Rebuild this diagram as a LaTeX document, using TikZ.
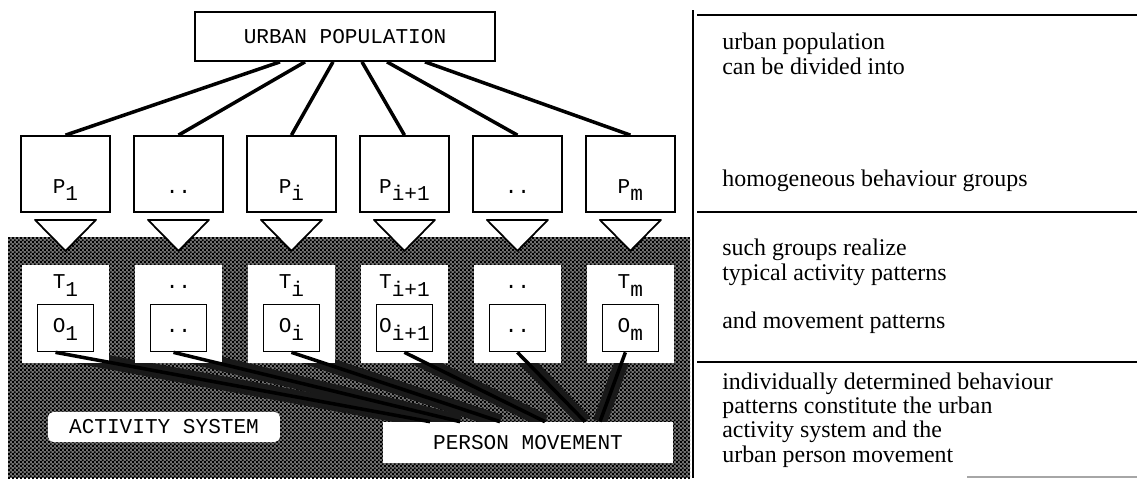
\documentclass[tikz,border=0pt]{standalone}
\usepackage{fontspec}
\setmainfont{Liberation Serif}
\setmonofont{Liberation Mono}
\usetikzlibrary{shapes,arrows,positioning,calc,patterns,backgrounds}

\pgfdeclarepatternformonly{halftone}{\pgfqpoint{0pt}{0pt}}{\pgfqpoint{2.4pt}{2.4pt}}{\pgfqpoint{2.4pt}{2.4pt}}{%
  \pgfpathrectangle{\pgfqpoint{0pt}{0pt}}{\pgfqpoint{1.2pt}{1.2pt}}%
  \pgfpathrectangle{\pgfqpoint{1.2pt}{1.2pt}}{\pgfqpoint{1.2pt}{1.2pt}}%
  \pgfusepath{fill}}

\newcommand{\lowidx}[1]{\raisebox{-4pt}{#1}}

\begin{document}
\begin{tikzpicture}[x=0.02cm, y=-0.02cm, node distance=2.26cm, auto, font=\ttfamily\fontsize{12}{14}\selectfont]
  \tikzstyle{popbox} = [rectangle, draw, line width=1pt, fill=white, minimum width=6cm, minimum height=0.98cm]
  \tikzstyle{grpbox} = [rectangle, draw, line width=1pt, fill=white, minimum width=1.78cm, minimum height=1.52cm, inner sep=0pt, text height=1.06cm, text depth=0.3cm]
  \tikzstyle{actbox} = [rectangle, fill=white, minimum width=1.74cm, minimum height=1.96cm, inner sep=0pt, text height=0.3cm, text depth=1.3cm]
  \tikzstyle{movbox} = [rectangle, draw, line width=1pt, fill=white, minimum width=1.12cm, minimum height=0.94cm, inner sep=0pt, text height=0.45cm, text depth=0.25cm]
  \tikzstyle{labelbox} = [rectangle, fill=white, rounded corners=3pt, minimum width=4.64cm, minimum height=0.6cm]
  \tikzstyle{funnel} = [draw, line width=1pt, fill=white, line join=round]
  \tikzstyle{linkline} = [line width=2pt]
  \tikzstyle{flowline} = [line width=2pt]
  \tikzstyle{flowband} = [line width=8pt, black!90]
  \tikzstyle{sepline} = [line width=1.3pt]
  \tikzstyle{note} = [anchor=base west, align=left, inner sep=0pt, font=\rmfamily\fontsize{13.6}{13.8}\selectfont]

  \useasboundingbox (0,0) rectangle (1137,478);

  \node [popbox] (pop) at (345,36.5) {URBAN POPULATION};
  \node [grpbox] (p1) at (65.5,174) {P\lowidx{1}};
  \node [grpbox, right of=p1] (p2) {..};
  \node [grpbox, right of=p2] (p3) {P\lowidx{i}};
  \node [grpbox, right of=p3] (p4) {P\lowidx{i+1}};
  \node [grpbox, right of=p4] (p5) {..};
  \node [grpbox, right of=p5] (p6) {P\lowidx{m}};

  \draw [linkline] ([xshift=-1.3cm]pop.south) -- (p1.north);
  \draw [linkline] ([xshift=-0.8cm]pop.south) -- (p2.north);
  \draw [linkline] ([xshift=-0.24cm]pop.south) -- (p3.north);
  \draw [linkline] ([xshift=0.34cm]pop.south) -- (p4.north);
  \draw [linkline] ([xshift=0.84cm]pop.south) -- (p5.north);
  \draw [linkline] ([xshift=1.6cm]pop.south) -- (p6.north);

  \node [actbox, below of=p1, node distance=2.8cm] (t1) {T\lowidx{1}};
  \node [actbox, right of=t1] (t2) {..};
  \node [actbox, right of=t2] (t3) {T\lowidx{i}};
  \node [actbox, right of=t3] (t4) {T\lowidx{i+1}};
  \node [actbox, right of=t4] (t5) {..};
  \node [actbox, right of=t5] (t6) {T\lowidx{m}};

  \foreach \i in {1,...,6}
    \draw [funnel] ($(p\i.south)+(-30.5,7)$) -- ($(p\i.south)+(30.5,7)$) -- ($(p\i.south)+(0,38)$) -- cycle;

  \node [movbox, below of=t1, node distance=0.28cm] (o1) {O\lowidx{1}};
  \node [movbox, below of=t2, node distance=0.28cm] (o2) {..};
  \node [movbox, below of=t3, node distance=0.28cm] (o3) {O\lowidx{i}};
  \node [movbox, below of=t4, node distance=0.28cm] (o4) {O\lowidx{i+1}};
  \node [movbox, below of=t5, node distance=0.28cm] (o5) {..};
  \node [movbox, below of=t6, node distance=0.28cm] (o6) {O\lowidx{m}};

  \node [labelbox] (asys) at (164,427) {ACTIVITY SYSTEM};
  \node [rectangle, fill=white, minimum width=5.8cm, minimum height=0.82cm] (pmov) at (528,442.5) {PERSON MOVEMENT};

  \draw [flowline] ([xshift=-0.2cm]o1.south) -- ([xshift=-1.96cm]pmov.north);
  \draw [flowline] ([xshift=-0.1cm]o2.south) -- ([xshift=-1.36cm]pmov.north);
  \draw [flowline] (o3.south) -- ([xshift=-0.56cm]pmov.north);
  \draw [flowline] (o4.south) -- ([xshift=0.34cm]pmov.north);
  \draw [flowline] (o5.south) -- ([xshift=1.14cm]pmov.north);
  \draw [flowline] ([xshift=-0.1cm]o6.south) -- ([xshift=1.44cm]pmov.north);

  \begin{scope}[on background layer]
    \fill [black!55] (8,237) rectangle (690,478);
    \fill [pattern=halftone, pattern color=black] (8,237) rectangle (690,478);
    \draw [flowband] ([xshift=-0.2cm]o1.south) -- ([xshift=-1.96cm]pmov.north);
    \draw [flowband] ([xshift=-0.1cm]o2.south) -- ([xshift=-1.36cm]pmov.north);
    \draw [flowband] (o3.south) -- ([xshift=-0.56cm]pmov.north);
    \draw [flowband] (o4.south) -- ([xshift=0.34cm]pmov.north);
    \draw [flowband] (o5.south) -- ([xshift=1.14cm]pmov.north);
    \draw [flowband] ([xshift=-0.1cm]o6.south) -- ([xshift=1.44cm]pmov.north);
  \end{scope}

  \draw [sepline] (693,10) -- (693,478);
  \draw [sepline] (697,15) -- (1137,15);
  \draw [sepline] (697,212) -- (1137,212);
  \draw [sepline] (697,362) -- (1137,362);
  \draw [black!35, line width=0.6pt] (967,477) -- (1137,477);

  \node [note] (n1) at (722,74) {urban population\\can be divided into};
  \node [note] (n2) at (722,186) {homogeneous behaviour groups};
  \node [note] (n3) at (722,280) {such groups realize\\typical activity patterns};
  \node [note] (n4) at (722,328) {and movement patterns};
  \node [note] (n5) at (722,462) {individually determined behaviour\\patterns constitute the urban\\activity system and the\\urban person movement};
\end{tikzpicture}
\end{document}
